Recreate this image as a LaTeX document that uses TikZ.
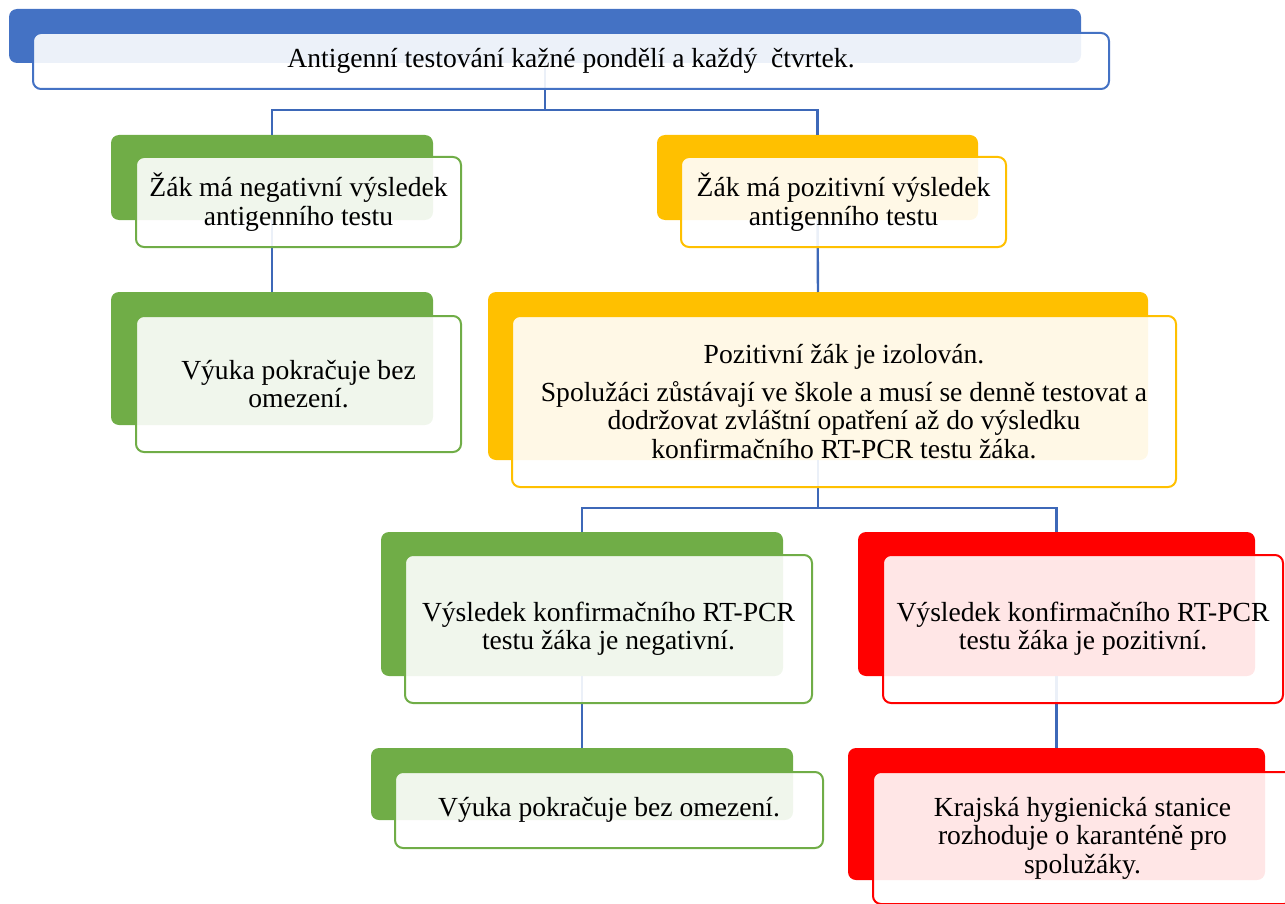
\documentclass[tikz,border=0pt]{standalone}
\usepackage{fontspec}
\setmainfont{Liberation Serif}

\definecolor{blu}{HTML}{4472C4}
\definecolor{grn}{HTML}{70AD47}
\definecolor{ylw}{HTML}{FFC000}
\definecolor{rd}{HTML}{FF0000}
\definecolor{linkblue}{HTML}{3D68B8}

\begin{document}
\begin{tikzpicture}[x=.5pt,y=-.5pt,
  back/.style={rectangle, rounded corners=4pt, inner sep=0pt, outer sep=0pt},
  front/.style={rectangle, rounded corners=4pt, fill=white, fill opacity=.9,
    text opacity=1, line width=1pt, inner sep=0pt, outer sep=0pt,
    align=center, font=\fontsize{13.8}{14.2}\selectfont},
  link/.style={draw=linkblue, line width=1.2pt}]

\useasboundingbox (0,0) rectangle (1285,904);
\clip (0,0) rectangle (1285,904);

% back boxes
\node[back, fill=blu, minimum width=536pt, minimum height=27pt]   (topB)  at (545,36) {};
\node[back, fill=grn, minimum width=161pt, minimum height=42.5pt] (negB)  at (272,177.5) {};
\node[back, fill=ylw, minimum width=160.5pt, minimum height=42.5pt] (posB) at (817.5,177.5) {};
\node[back, fill=grn, minimum width=161pt, minimum height=66.5pt] (goB)   at (272,358.5) {};
\node[back, fill=ylw, minimum width=330pt, minimum height=84pt]   (isoB)  at (818,376) {};
\node[back, fill=grn, minimum width=201pt, minimum height=72pt]   (pnegB) at (582,604) {};
\node[back, fill=rd,  minimum width=198.5pt, minimum height=72pt] (pposB) at (1056.5,604) {};
\node[back, fill=grn, minimum width=211pt, minimum height=36pt]   (go2B)  at (582,784) {};
\node[back, fill=rd,  minimum width=208.5pt, minimum height=66pt] (khsB)  at (1056.5,814) {};

% connectors
\coordinate (j1) at (545,110);
\coordinate (j2) at (818,508);
\draw[link] (topB.south) -- (j1) -| (negB.north);
\draw[link] (j1) -| (posB.north);
\draw[link] (negB.south) -- (goB.north);
\draw[link] (posB.south) -- (isoB.north);
\draw[link] (isoB.south) -- (j2) -| (pnegB.north);
\draw[link] (j2) -| (pposB.north);
\draw[link] (pnegB.south) -- (go2B.north);
\draw[link] (pposB.south) -- (khsB.north);

% front boxes
\node[front, draw=blu, minimum width=538pt, minimum height=28pt] (top) at (571,61)
  {Antigenní testování kažné pondělí a každý~ čtvrtek.};
\node[front, draw=grn, minimum width=162.5pt, minimum height=45pt] (neg) at (298.5,202)
  {Žák má negativní výsledek\\antigenního testu};
\node[front, draw=ylw, minimum width=162.5pt, minimum height=45pt] (pos) at (843.5,202)
  {Žák má pozitivní výsledek\\antigenního testu};
\node[front, draw=grn, minimum width=162.5pt, minimum height=68pt] (go) at (298.5,384)
  {Výuka pokračuje bez\\omezení.};
\node[front, draw=ylw, minimum width=332pt, minimum height=85.5pt] (iso) at (844,401.5)
  {Pozitivní žák je izolován.\\[4.5pt]
   Spolužáci zůstávají ve škole a musí se denně testovat a\\
   dodržovat zvláštní opatření až do výsledku\\
   konfirmačního RT-PCR testu žáka.};
\node[front, draw=grn, minimum width=203.5pt, minimum height=74pt] (pneg) at (608.5,629)
  {Výsledek konfirmačního RT-PCR\\testu žáka je negativní.};
\node[front, draw=rd, minimum width=200pt, minimum height=74pt] (ppos) at (1083,629)
  {Výsledek konfirmačního RT-PCR\\testu žáka je pozitivní.};
\node[front, draw=grn, minimum width=214pt, minimum height=38pt] (go2) at (609,810)
  {Výuka pokračuje bez omezení.};
\node[front, draw=rd, minimum width=209.5pt, minimum height=66pt] (khs) at (1082.5,838)
  {Krajská hygienická stanice\\rozhoduje o karanténě pro\\spolužáky.};

\end{tikzpicture}
\end{document}
